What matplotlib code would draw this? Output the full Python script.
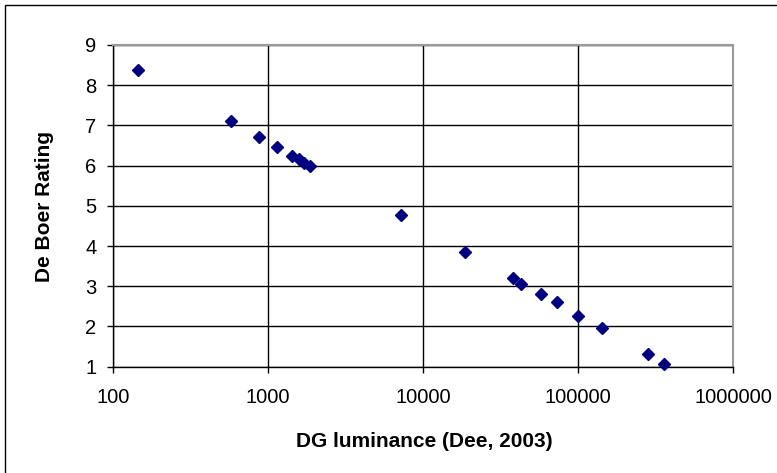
import numpy as np
import matplotlib.pyplot as plt
from matplotlib.patches import Rectangle

plt.rcParams['font.family'] = ['Liberation Sans', 'DejaVu Sans']

# DG luminance vs De Boer rating
luminance = [144, 579, 877, 1140, 1432, 1579, 1717, 1875, 7190, 18700,
             37900, 42700, 57300, 73000, 100000, 142700, 282000, 357000]
rating = [8.39, 7.11, 6.71, 6.46, 6.25, 6.17, 6.06, 6.0, 4.77, 3.86,
          3.21, 3.05, 2.81, 2.6, 2.27, 1.96, 1.32, 1.07]

xticks = [100, 1000, 10000, 100000, 1000000]
yticks = [1, 2, 3, 4, 5, 6, 7, 8, 9]

W, H = 777, 473
fig = plt.figure(figsize=(W/100, H/100), dpi=100)
ax = fig.add_axes([113/W, 1-366.7/H, (733-113)/W, (366.7-45)/H])

ax.plot(luminance, rating, linestyle='none', marker='D', markersize=6.6,
        color='#000080', zorder=3, clip_on=False)

ax.set_xscale('log')
ax.set_xlim(100, 1000000)
ax.set_ylim(1, 9)
ax.set_xticks(xticks)
ax.set_xticklabels([str(t) for t in xticks])
ax.xaxis.set_minor_locator(plt.NullLocator())
ax.set_yticks(yticks)
ax.grid(True, color='black', linewidth=1)
ax.set_axisbelow(True)

for s in ['top', 'right']:
    ax.spines[s].set_color('#999999')
    ax.spines[s].set_linewidth(1.5)
for s in ['left', 'bottom']:
    ax.spines[s].set_color('black')
    ax.spines[s].set_linewidth(1)

ax.tick_params(direction='out', length=4, width=1, labelsize=14.5)
ax.tick_params(axis='x', pad=11)
ax.tick_params(axis='y', pad=8)

ax.set_xlabel('DG luminance (Dee, 2003)', fontsize=15, fontweight='bold')
ax.set_ylabel('De Boer Rating', fontsize=15, fontweight='bold')
ax.xaxis.set_label_coords(424/W, 1-441/H, transform=fig.transFigure)
ax.xaxis.label.set_va('center')
ax.yaxis.set_label_coords(45/W, 1-206/H, transform=fig.transFigure)
ax.yaxis.label.set_va('center')

fig.patches.append(Rectangle((5/W, -0.1), 1.1, 1 - 5/H + 0.1,
                             transform=fig.transFigure, fill=False,
                             edgecolor='black', linewidth=1))

fig.savefig('out.png', dpi=100)
